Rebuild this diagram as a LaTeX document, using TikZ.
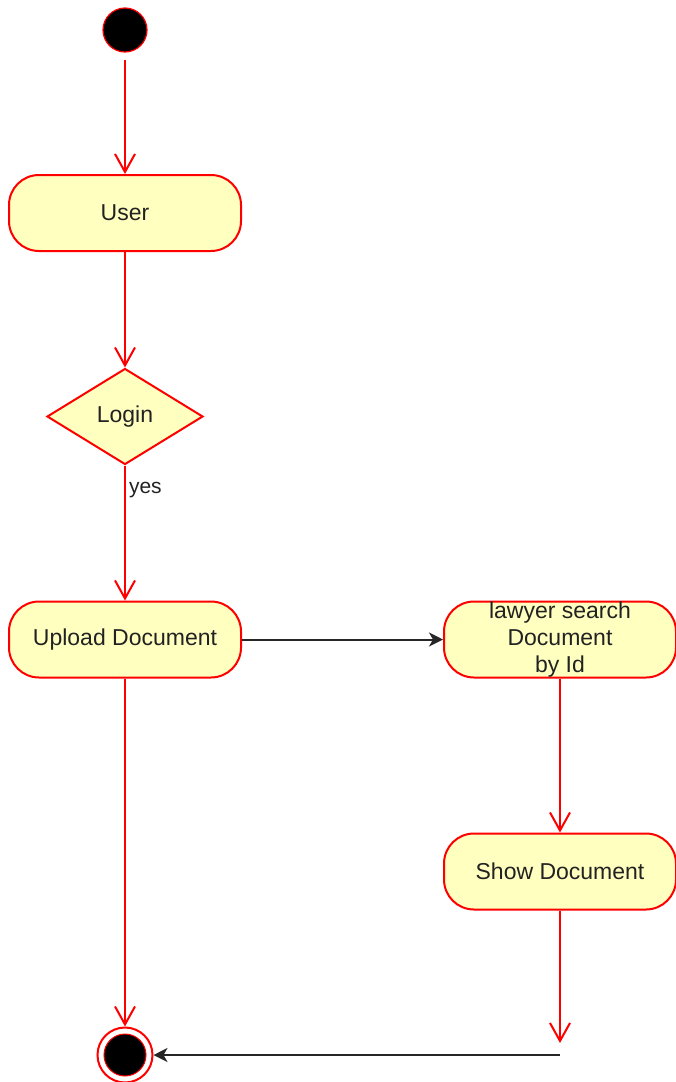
\documentclass[tikz,border=0pt]{standalone}
\usepackage{fontspec}
\setmainfont{Liberation Sans}
\usetikzlibrary{shapes.geometric,arrows.meta}
\definecolor{actfill}{HTML}{FFFFC0}
\definecolor{actline}{HTML}{FF0000}
\definecolor{acttext}{HTML}{222222}
\begin{document}
\begin{tikzpicture}[x=0.5pt,y=-0.5pt,
    activity/.style={draw=actline, fill=actfill, line width=1pt, rounded corners=15pt,
        minimum width=116pt, minimum height=38pt, inner sep=0pt, align=center,
        font=\fontsize{11.5}{13.5}\selectfont, text=acttext},
    decision/.style={diamond, draw=actline, fill=actfill, line width=1pt,
        minimum width=78pt, minimum height=48pt, inner sep=0pt,
        font=\fontsize{11.5}{13.5}\selectfont, text=acttext},
    flow/.style={draw=actline, line width=1pt, -{Straight Barb[length=9pt,width=10pt]}},
    pass/.style={draw=black!85, line width=1pt, -{Stealth[length=7pt,width=7pt,inset=2pt]}}]
    \useasboundingbox (0,0) rectangle (675,1082);

    % Start and end
    \node[circle, fill=black, draw=actline, line width=0.6pt, minimum size=22pt, inner sep=0pt] (start) at (125,30) {};
    \node[circle, draw=actline, fill=white, line width=1pt, minimum size=27.5pt, inner sep=0pt] (finish) at (125,1055) {};
    \node[circle, fill=black, draw=actline, line width=0.5pt, minimum size=21pt, inner sep=0pt] (finishdot) at (finish) {};

    % Activities
    \node[activity] (user) at (125,213) {User};
    \node[decision] (login) at (125,416.5) {Login};
    \node[activity] (upload) at (125,639.5) {Upload Document};
    \node[activity] (search) at (560,639.5) {lawyer search\\Document\\by Id};
    \node[activity] (show) at (560,871.5) {Show Document};
    \coordinate (dropend) at (560,1043);
    \coordinate (turn) at (560,1055);

    % Flows
    \draw[flow, shorten <=3.5pt] (start) -- (user);
    \draw[flow] (user) -- (login);
    \draw[flow] (login) -- node[pos=0.18, right, inner sep=1.5pt, font=\fontsize{10.5}{12}\selectfont, text=acttext] {yes} (upload);
    \draw[pass] (upload) -- (search);
    \draw[flow] (upload) -- (finish);
    \draw[flow] (search) -- (show);
    \draw[flow] (show) -- (dropend);
    \draw[pass] (turn) -- (finish);
\end{tikzpicture}
\end{document}
